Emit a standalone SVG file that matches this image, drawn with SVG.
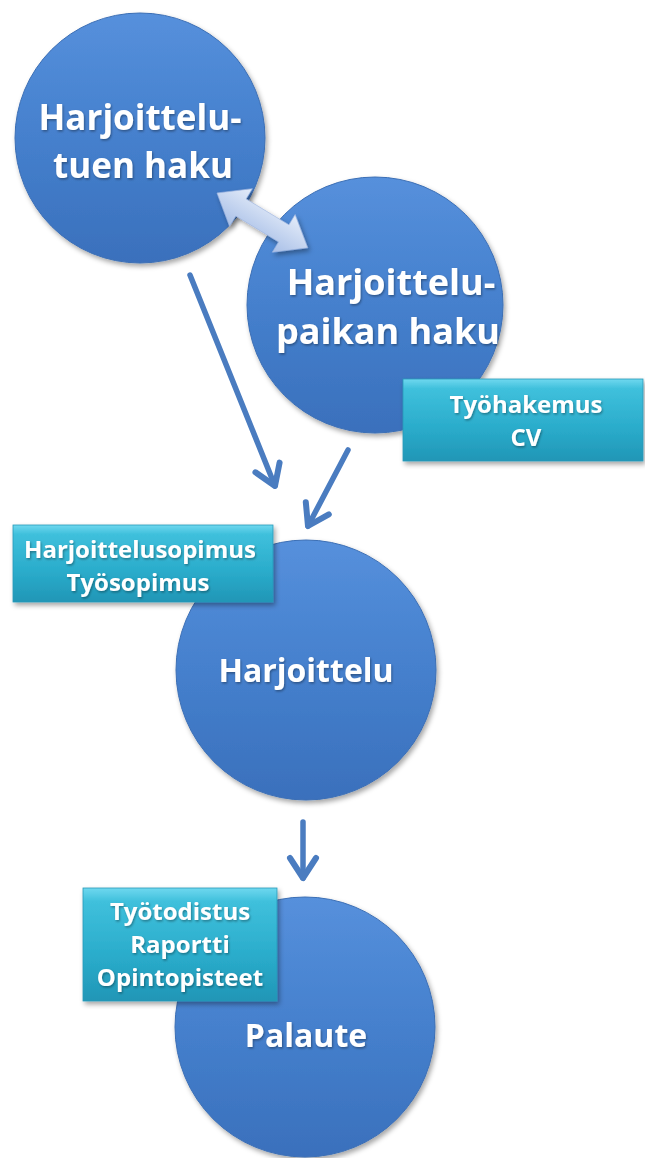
<svg xmlns="http://www.w3.org/2000/svg" width="645" height="1158" viewBox="0 0 645 1158">
  <defs>
    <linearGradient id="gCircle" x1="0" y1="0" x2="0" y2="1">
      <stop offset="0" stop-color="#5690dc"/>
      <stop offset="0.5" stop-color="#4580cd"/>
      <stop offset="1" stop-color="#3a70bc"/>
    </linearGradient>
    <linearGradient id="gBox" x1="0" y1="0" x2="0" y2="1">
      <stop offset="0" stop-color="#6fd8ef"/>
      <stop offset="0.12" stop-color="#3fc0dc"/>
      <stop offset="0.6" stop-color="#2aaccb"/>
      <stop offset="1" stop-color="#2196b6"/>
    </linearGradient>
    <linearGradient id="gDouble" x1="0" y1="0" x2="0" y2="1">
      <stop offset="0" stop-color="#e4ecf9"/>
      <stop offset="1" stop-color="#a8bfe7"/>
    </linearGradient>
    <filter id="shadow" x="-20%" y="-20%" width="140%" height="140%">
      <feDropShadow dx="2" dy="3" stdDeviation="2.5" flood-color="#000" flood-opacity="0.35"/>
    </filter>
    <filter id="tshadow" x="-10%" y="-30%" width="120%" height="160%">
      <feDropShadow dx="1" dy="1.5" stdDeviation="1" flood-color="#000" flood-opacity="0.35"/>
    </filter>
    <marker id="chev" markerUnits="userSpaceOnUse" markerWidth="40" markerHeight="40" refX="0" refY="0" viewBox="-30 -20 40 40" orient="auto" overflow="visible">
      <path d="M-20,-13 L0,0 L-20,13" fill="none" stroke="#4a7cc0" stroke-width="6" stroke-linecap="round" stroke-linejoin="round"/>
    </marker>
  </defs>
  <style>
    .circle { fill: url(#gCircle); stroke: #3c6fb5; stroke-width: 1; filter: url(#shadow); }
    .box { fill: url(#gBox); stroke: #2a9ab8; stroke-width: 0.8; filter: url(#shadow); }
    .ct { font-family: "Open Sans", "Noto Sans", sans-serif; font-weight: bold; fill: #ffffff; text-anchor: middle; filter: url(#tshadow); }
    .bt { font-family: "Open Sans", "Noto Sans", sans-serif; font-weight: bold; fill: #ffffff; text-anchor: middle; font-size: 24px; filter: url(#tshadow); }
    .conn { fill: none; stroke: #4a7cc0; stroke-width: 5.5; stroke-linecap: round; marker-end: url(#chev); }
  </style>

  <g id="connectors">
    <line class="conn" x1="190" y1="275" x2="275" y2="486"/>
    <line class="conn" x1="348" y1="450" x2="308" y2="526"/>
    <line class="conn" x1="303" y1="822" x2="303" y2="878"/>
  </g>

  <g id="node-tuki">
    <circle class="circle" cx="140" cy="138" r="125"/>
    <text class="ct" font-size="35" x="140" y="130">Harjoittelu-</text>
    <text class="ct" font-size="35" x="143" y="178">tuen haku</text>
  </g>

  <g id="node-paikka">
    <circle class="circle" cx="375" cy="305" r="128"/>
    <text class="ct" font-size="36" x="391" y="295">Harjoittelu-</text>
    <text class="ct" font-size="36" x="388" y="344">paikan haku</text>
  </g>

  <g id="double-arrow" filter="url(#shadow)">
    <polygon transform="translate(217,193) rotate(31.15)" points="0,0 28,-22 28,-10 78,-10 78,-22 106,0 78,22 78,10 28,10 28,22" fill="url(#gDouble)" stroke="#9fb6df" stroke-width="0.6"/>
  </g>

  <g id="node-harjoittelu">
    <circle class="circle" cx="306" cy="670" r="130"/>
    <text class="ct" font-size="32" x="306" y="682">Harjoittelu</text>
  </g>

  <g id="node-palaute">
    <circle class="circle" cx="305" cy="1027" r="130"/>
    <text class="ct" font-size="32" x="306" y="1047">Palaute</text>
  </g>

  <g id="box-tyohakemus">
    <rect class="box" x="403" y="379" width="240" height="82"/>
    <text class="bt" x="526" y="413">Työhakemus</text>
    <text class="bt" x="526" y="446">CV</text>
  </g>

  <g id="box-sopimus">
    <rect class="box" x="13" y="525" width="260" height="77"/>
    <text class="bt" x="140" y="558">Harjoittelusopimus</text>
    <text class="bt" x="138" y="591">Työsopimus</text>
  </g>

  <g id="box-todistus">
    <rect class="box" x="83" y="888" width="194" height="113"/>
    <text class="bt" x="180" y="920">Työtodistus</text>
    <text class="bt" x="180" y="953">Raportti</text>
    <text class="bt" x="180" y="986">Opintopisteet</text>
  </g>
</svg>
